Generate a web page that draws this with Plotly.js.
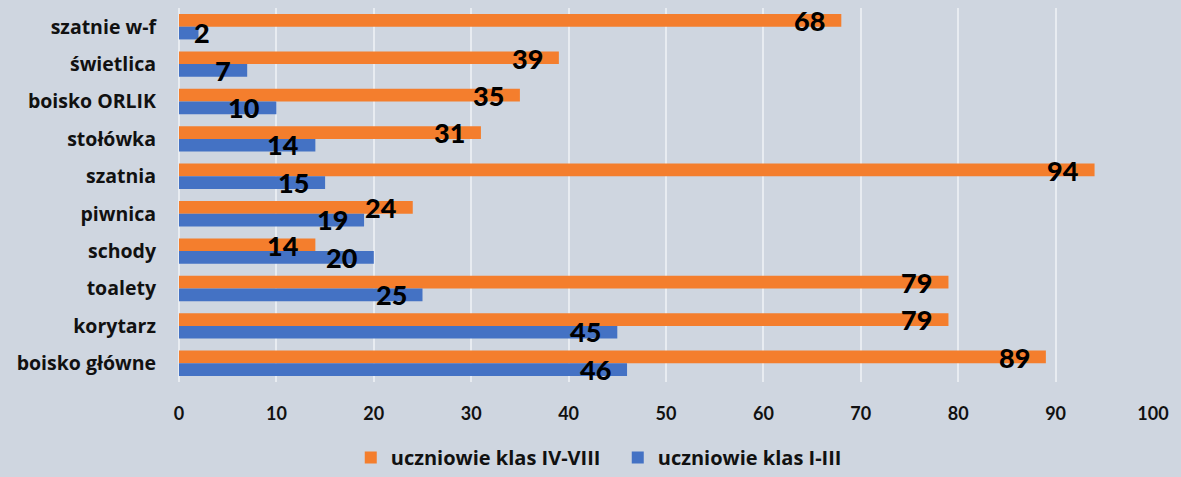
<!DOCTYPE html>
<html>
<head>
<meta charset="utf-8">
<script src="https://cdn.plot.ly/plotly-3.0.1.min.js"></script>
<style>
  html, body { margin: 0; padding: 0; background: #cfd6e0; }
  #chart { width: 1181px; height: 477px; }
</style>
</head>
<body>
<div id="chart"></div>
<script>
const categories = ["szatnie w-f", "świetlica", "boisko ORLIK", "stołówka", "szatnia",
                    "piwnica", "schody", "toalety", "korytarz", "boisko główne"];
const older = [68, 39, 35, 31, 94, 24, 14, 79, 79, 89];   // uczniowie klas IV-VIII
const younger = [2, 7, 10, 14, 15, 19, 20, 25, 45, 46];  // uczniowie klas I-III
const seriesNames = ["uczniowie klas IV-VIII", "uczniowie klas I-III"];
const seriesColors = ["#f47e2d", "#4472c4"];

const traces = [older, younger].map((vals, i) => ({
  type: "bar",
  orientation: "h",
  y: categories,
  x: vals,
  name: seriesNames[i],
  marker: { color: seriesColors[i] },
  hoverinfo: "x+y"
}));

// value labels sit over the bar ends, as in the original
const annotations = [];
[older, younger].forEach((vals, i) => {
  vals.forEach((v, k) => {
    const small = v < 4;
    annotations.push({
      x: small ? 0 : v,
      y: categories[k],
      yshift: i === 0 ? 6 : -6,
      xanchor: small ? "left" : "right",
      xshift: small ? 13 : -14,
      text: String(v),
      showarrow: false,
      font: { family: "Lato, 'Open Sans', sans-serif", size: 27, color: "#000", weight: 900 }
    });
  });
});

const layout = {
  width: 1181, height: 477,
  paper_bgcolor: "#cfd6e0",
  plot_bgcolor: "#cfd6e0",
  margin: { l: 179, r: 28, t: 8, b: 95, autoexpand: false },
  barmode: "group",
  bargap: 0.32,
  bargroupgap: 0,
  font: { family: "'Open Sans', Lato, sans-serif", color: "#111" },
  xaxis: {
    range: [0, 100],
    dtick: 10,
    showgrid: true,
    gridcolor: "#e8ecf1",
    gridwidth: 2,
    zeroline: true,
    zerolinecolor: "#e8ecf1",
    zerolinewidth: 2,
    ticks: "",
    ticklabelstandoff: 19,
    tickfont: { family: "Lato, sans-serif", size: 18, weight: "bold", color: "#111" },
    fixedrange: true
  },
  yaxis: {
    range: [categories.length - 0.5, -0.5],
    showgrid: false,
    ticks: "",
    ticklabelstandoff: 22,
    tickfont: { size: 19.5, weight: 700, color: "#111" },
    fixedrange: true
  },
  legend: {
    orientation: "h",
    x: 0.297, xanchor: "left", xref: "container",
    y: -0.008, yanchor: "bottom", yref: "container",
    font: { size: 20, weight: 700, color: "#111" },
    itemwidth: 30,
    entrywidth: 222,
    traceorder: "normal"
  },
  annotations: annotations
};

Plotly.newPlot("chart", traces, layout, { displayModeBar: false, staticPlot: true });
</script>
</body>
</html>
